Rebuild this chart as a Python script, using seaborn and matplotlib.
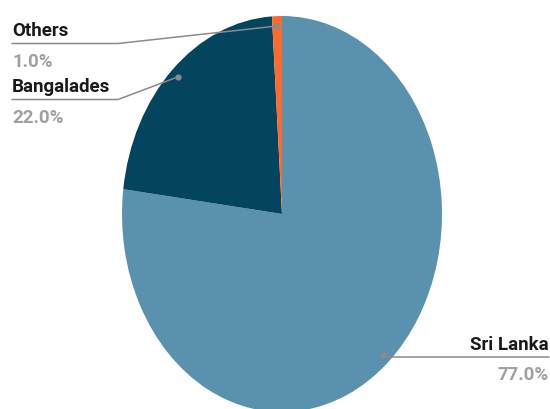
import numpy as np
import matplotlib.pyplot as plt
import seaborn as sns
from matplotlib.lines import Line2D

sns.set_theme(style='white')
plt.rcParams['font.family'] = ['Roboto', 'DejaVu Sans']

## Data.
countries = ['Sri Lanka', 'Bangalades', 'Others']
shares = [77.0, 22.0, 1.0]
palette = ['#5a91ae', '#03445f', '#ff6a2b']

## Canvas (pixel helpers, origin top-left).
W, H = 550, 409
fig = plt.figure(figsize=(W / 100, H / 100), dpi=100)
ax = fig.add_axes([122 / W, (H - 412) / H, 320 / W, 396 / H])
px = lambda x, y: (x / W, 1 - y / H)

## Pie (stretched to an ellipse via auto aspect).
wedges, _ = ax.pie(shares, colors=palette, startangle=90, counterclock=False,
                   radius=1, wedgeprops=dict(linewidth=0))
ax.set(xlim=(-1, 1), ylim=(-1, 1))
ax.set_aspect('auto')
ax.axis('off')

## Label layout (pixels): text x, ha, name baseline, underline y, line end x, value baseline.
layout = {
    'Sri Lanka': (549, 'right', 350, 357, 549, 380),
    'Bangalades': (12, 'left', 92, 99.5, 118, 123),
    'Others': (12, 'left', 36, 43.5, 118, 67),
}

linecolor = '#8a8a8a'
for w, name, val in zip(wedges, countries, shares):
    mid = np.deg2rad((w.theta1 + w.theta2) / 2)
    dot = ax.transData.transform((0.95 * np.cos(mid), 0.95 * np.sin(mid)))
    dx, dy = dot[0], H - dot[1]
    tx, ha, base, uy, ex, vbase = layout[name]
    if ha == 'left':
        xs, ys = [tx, ex, dx], [uy, uy, dy]
    else:
        xs, ys = [tx, dx], [uy, uy]
    fx, fy = zip(*[px(a, b) for a, b in zip(xs, ys)])
    fig.add_artist(Line2D(fx, fy, color=linecolor, lw=1.1, transform=fig.transFigure))
    fig.add_artist(Line2D([px(dx, dy)[0]], [px(dx, dy)[1]], marker='o', ms=3.5,
                          color=linecolor, transform=fig.transFigure))
    fig.text(*px(tx, base), name, ha=ha, va='baseline', fontsize=13.5,
             fontweight='bold', color='#1a1a1a')
    fig.text(*px(tx, vbase), f'{val:.1f}%', ha=ha, va='baseline', fontsize=13.5,
             fontweight='bold', color='#a0a0a0')

plt.savefig('out.png', dpi=100)
